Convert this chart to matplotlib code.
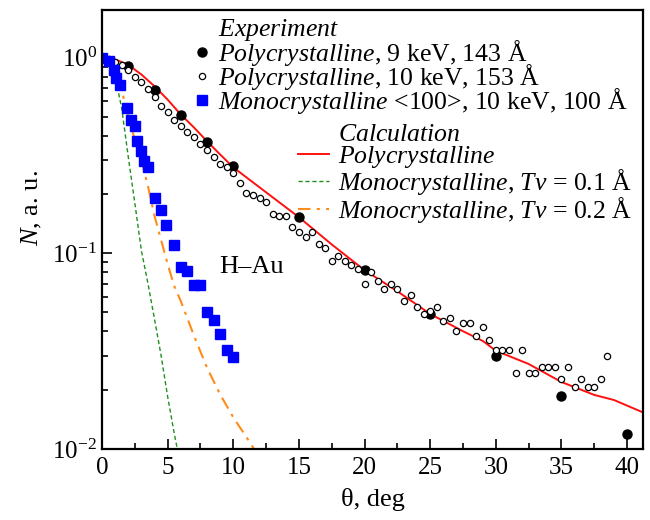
import numpy as np
import matplotlib
matplotlib.use("Agg")
import matplotlib.pyplot as plt
from matplotlib.lines import Line2D
from matplotlib.ticker import MultipleLocator

plt.rcParams['font.family'] = ['Liberation Serif', 'DejaVu Serif']
plt.rcParams['mathtext.fontset'] = 'custom'
plt.rcParams['mathtext.rm'] = 'Liberation Serif'
plt.rcParams['mathtext.it'] = 'Liberation Serif:italic'

# Experiment: polycrystalline, 9 keV, 143 A
poly9_theta = [0, 2, 4, 6, 8, 10, 15, 20, 25, 30, 35, 40]
poly9_N = [1.0, 0.91, 0.687, 0.508, 0.371, 0.281, 0.153, 0.082, 0.049, 0.030, 0.0187, 0.012]

# Experiment: polycrystalline, 10 keV, 153 A (every 0.5 deg)
poly10_theta = np.arange(0, 39, 0.5)
poly10_N = [1.0, 0.98, 0.95, 0.918, 0.862, 0.797, 0.751, 0.692, 0.630, 0.565,
            0.526, 0.483, 0.450, 0.416, 0.394, 0.363, 0.337, 0.311, 0.287, 0.276,
            0.257, 0.229, 0.204, 0.198, 0.192, 0.184, 0.158, 0.156,
            0.156, 0.137, 0.129, 0.121, 0.128, 0.112, 0.106, 0.091, 0.097, 0.091,
            0.087, 0.083, 0.070, 0.080, 0.072, 0.066, 0.070, 0.066, 0.057, 0.061,
            0.053, 0.049, 0.051, 0.053, 0.045, 0.047, 0.040, 0.044, 0.044, 0.038,
            0.042, 0.036, 0.032, 0.032, 0.032, 0.0245, 0.032, 0.0245, 0.0245, 0.0264,
            0.0264, 0.0264, 0.0227, 0.0264, 0.0207, 0.0227, 0.0207, 0.0207, 0.0227, 0.030]

# Experiment: monocrystalline <100>, 10 keV, 100 A
mono_theta = [0, 0.5, 0.9, 1.1, 1.4, 1.9, 2.2, 2.5, 2.7, 3.0, 3.2, 3.5, 4.0, 4.5,
              4.9, 5.5, 6.0, 6.45, 7.0, 7.45, 8.0, 8.5, 9.0, 9.5, 10.0]
mono_N = [1.0, 0.957, 0.868, 0.788, 0.722, 0.553, 0.483, 0.446, 0.374, 0.333,
          0.296, 0.276, 0.191, 0.166, 0.139, 0.110, 0.085, 0.081, 0.069, 0.069,
          0.050, 0.0457, 0.0388, 0.032, 0.0296]

# Calculation: polycrystalline
calc_poly_theta = [0, 1, 2, 3, 4, 5, 6, 7, 8, 9, 10, 12.5, 15, 17.5, 20, 22.5,
                   25, 27.5, 29, 30, 32.5, 35, 37.5, 39, 41.2]
calc_poly_N = [1.0, 0.98, 0.92, 0.82, 0.714, 0.61, 0.512, 0.44, 0.374, 0.32, 0.275,
               0.205, 0.153, 0.111, 0.082, 0.064, 0.049, 0.040, 0.0357, 0.0318,
               0.0272, 0.022, 0.0189, 0.0178, 0.0154]

# Calculation: monocrystalline, Tv = 0.1 A
calc_t1_theta = [0, 0.5, 1.0, 1.5, 2.0, 2.5, 3.0, 3.5, 4.0, 4.5, 5.0, 5.5, 5.8]
calc_t1_N = [1.0, 0.97, 0.80, 0.55, 0.31, 0.18, 0.103, 0.070, 0.046, 0.030, 0.0185, 0.012, 0.0095]

# Calculation: monocrystalline, Tv = 0.2 A
calc_t2_theta = [0, 0.5, 1, 1.5, 2, 2.5, 3, 3.5, 4, 4.5, 5, 5.5, 6, 7, 8, 9, 10, 11, 11.7]
calc_t2_N = [1.0, 0.99, 0.88, 0.68, 0.50, 0.38, 0.30, 0.22, 0.155, 0.117, 0.088,
             0.068, 0.057, 0.038, 0.026, 0.019, 0.0145, 0.0115, 0.0097]

fig = plt.figure(figsize=(6.5, 5.2), dpi=100)
ax = fig.add_axes([0.157, 0.1365, 0.832, 0.844])

l_poly, = ax.plot(calc_poly_theta, calc_poly_N, color='#ff1010', lw=1.4)
l_t1, = ax.plot(calc_t1_theta, calc_t1_N, color='#1f8f1f', lw=1.0, ls=(0, (3, 2)))
l_t2, = ax.plot(calc_t2_theta, calc_t2_N, color='#ff8c1a', lw=1.5, ls=(0, (6, 3, 1.5, 3)))
m_p9, = ax.plot(poly9_theta, poly9_N, 'o', color='black', ms=6.5, ls='none')
m_p10, = ax.plot(poly10_theta, poly10_N, 'o', mfc='white', mec='black', mew=0.9, ms=4.5, ls='none')
m_mono, = ax.plot(mono_theta, mono_N, 's', color='#0000ff', ms=6.5, ls='none')

ax.set_yscale('log')
ax.set_xlim(0, 41.2)
ax.set_ylim(0.01, 1.75)
ax.xaxis.set_major_locator(MultipleLocator(5))
ax.xaxis.set_minor_locator(MultipleLocator(2.5))
ax.tick_params(which='both', direction='in', labelsize=18, top=False, right=False, width=1.2)
ax.tick_params(which='major', length=7)
ax.tick_params(which='minor', length=4)
ax.tick_params(axis='x', which='major', pad=6)
for s in ax.spines.values():
    s.set_linewidth(1.6)

ax.set_xlabel('θ, deg', fontsize=19, labelpad=6)
ax.set_ylabel(r'$\mathit{N}$, a. u.', fontsize=19)
ax.yaxis.set_label_coords(-0.108, 0.55)

ax.text(11.4, 0.085, 'H–Au', fontsize=19, ha='center', va='center')

# two frameless legends; a blank handle carries each group title
blank = Line2D([], [], ls='none')
leg1 = ax.legend([blank, m_p9, m_p10, m_mono],
                 [r'$\mathit{Experiment}$',
                  r'$\mathit{Polycrystalline}$, 9 keV, 143 Å',
                  r'$\mathit{Polycrystalline}$, 10 keV, 153 Å',
                  r'$\mathit{Monocrystalline}$ <100>, 10 keV, 100 Å'],
                 loc='upper right', bbox_to_anchor=(0.972, 0.984), frameon=False,
                 fontsize=18.5, handlelength=0.6, handletextpad=0.35, labelspacing=-0.22,
                 borderaxespad=0, borderpad=0)
ax.add_artist(leg1)
ax.legend([blank, l_poly, l_t1, l_t2],
          [r'$\mathit{Calculation}$',
           r'$\mathit{Polycrystalline}$',
           r'$\mathit{Monocrystalline}$, $\mathit{Tv}$ = 0.1 Å',
           r'$\mathit{Monocrystalline}$, $\mathit{Tv}$ = 0.2 Å'],
          loc='upper right', bbox_to_anchor=(0.980, 0.742), frameon=False,
          fontsize=18.5, handlelength=1.2, handletextpad=0.35, labelspacing=-0.1,
          borderaxespad=0, borderpad=0)

fig.savefig('out.png', dpi=100)
